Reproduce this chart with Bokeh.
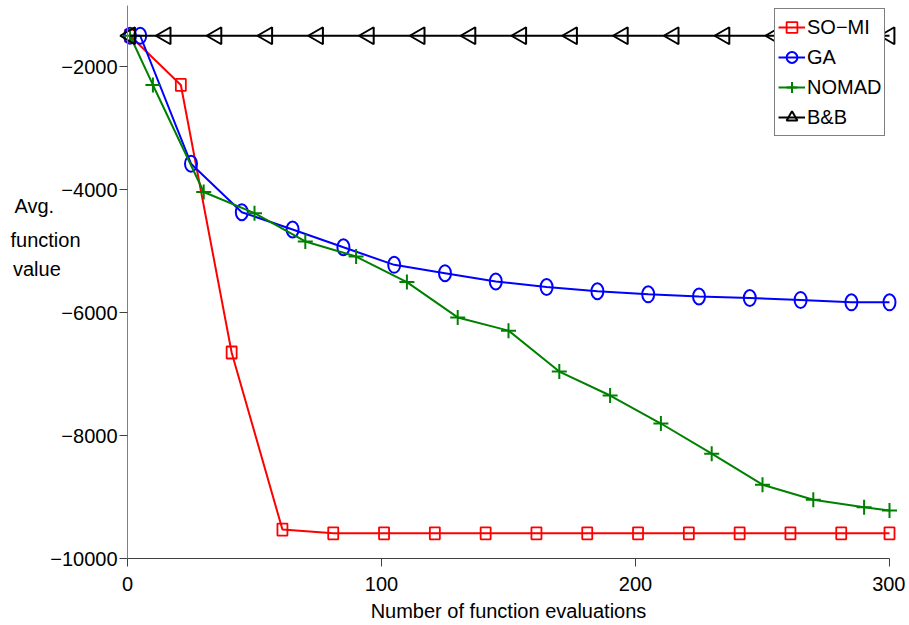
import numpy as np
from bokeh.plotting import figure
from bokeh.models import (Range1d, FixedTicker, Label, LinearAxis, ColumnDataSource,
                          Legend, LegendItem)
from bokeh.embed import file_html
from bokeh.resources import INLINE

# ---------------- data ----------------
somi_x = [1, 21, 41, 61, 81, 101, 121, 141, 161, 181, 201, 221, 241, 261, 281, 300]
somi_y = [-1500, -2300, -6650, -9530, -9590, -9590, -9590, -9590, -9590, -9590,
          -9590, -9590, -9590, -9590, -9590, -9590]

ga_x = [1, 5, 25, 45, 65, 85, 105, 125, 145, 165, 185, 205, 225, 245, 265, 285, 300]
ga_y = [-1500, -1500, -3580, -4370, -4650, -4940, -5225, -5360, -5495, -5585,
        -5655, -5705, -5740, -5765, -5795, -5835, -5835]

nomad_x = [1, 10, 30, 50, 70, 90, 110, 130, 150, 170, 190, 210, 230, 250, 270, 290, 300]
nomad_y = [-1500, -2300, -4040, -4385, -4845, -5090, -5505, -6080, -6295, -6960,
           -7350, -7805, -8295, -8800, -9045, -9165, -9220]

bb_x = [1, 15, 35, 55, 75, 95, 115, 135, 155, 175, 195, 215, 235, 255, 275, 295, 300]
bb_y = [-1500, -1500, -1500, -1500, -1500, -1500, -1500, -1500, -1500, -1500,
        -1500, -1500, -1500, -1500, -1500, -1500, -1500]

x_ticks = [0, 100, 200, 300]
x_tick_labels = ["0", "100", "200", "300"]
y_ticks = [-10000, -8000, -6000, -4000, -2000]
y_tick_labels = ["\u221210000", "\u22128000", "\u22126000", "\u22124000", "\u22122000"]

series_names = ["SO\u2212MI", "GA", "NOMAD", "B&B"]
x_title = "Number of function evaluations"
y_title_lines = ["Avg.", "function", "value"]

FONT = "Liberation Sans"
FS = "20px"

W, H = 905, 621
PX_PER_X = 2.54      # pixels per x unit
PX_PER_Y = 0.0615    # pixels per y unit
X0_PX, YB_PX = 127, 558   # pixel position of x=0 and y=-10000

x_start = -X0_PX / PX_PER_X
x_end = (W - X0_PX) / PX_PER_X
y_end = -10000 + YB_PX / PX_PER_Y
y_start = -10000 - (H - YB_PX) / PX_PER_Y

p = figure(width=W, height=H,
           x_range=Range1d(x_start, x_end), y_range=Range1d(y_start, y_end),
           output_backend="svg", toolbar_location=None,
           x_axis_location=None, y_axis_location=None,
           min_border_left=0, min_border_right=0,
           min_border_top=0, min_border_bottom=0)
p.outline_line_color = None
p.grid.visible = False
p.background_fill_color = "white"
p.border_fill_color = "white"

xax = LinearAxis(fixed_location=-10000, bounds=(0, 300),
                 ticker=FixedTicker(ticks=x_ticks),
                 major_label_overrides=dict(zip(x_ticks, x_tick_labels)))
yax = LinearAxis(fixed_location=0, bounds=(-10000, -1000),
                 ticker=FixedTicker(ticks=y_ticks),
                 major_label_overrides=dict(zip(y_ticks, y_tick_labels)))
for ax in (xax, yax):
    ax.major_tick_in = 0
    ax.major_tick_out = 8
    ax.minor_tick_line_color = None
    ax.major_tick_line_color = "#404040"
    ax.major_label_text_font = FONT
    ax.major_label_text_font_size = FS
    ax.major_label_text_color = "black"
xax.axis_line_color = "#404040"
yax.axis_line_color = "#808080"
xax.major_label_standoff = 10
yax.major_label_standoff = 2
p.add_layout(xax, "below")
p.add_layout(yax, "left")

# series
r_somi_l = p.line(somi_x, somi_y, line_color="red", line_width=2)
p.rect(somi_x, somi_y, width=10, height=12, width_units="screen", height_units="screen",
       fill_color=None, line_color="red", line_width=1.8)
# legend proxy (size 0: invisible in plot, legend sizes marker itself)
r_somi_m = p.scatter(somi_x, somi_y, marker="square", size=0, fill_color=None,
                     line_color="red", line_width=1.8)

r_ga_l = p.line(ga_x, ga_y, line_color="blue", line_width=2)
p.ellipse(ga_x, ga_y, width=12, height=16, width_units="screen", height_units="screen",
          fill_color=None, line_color="blue", line_width=2)
r_ga_m = p.scatter(ga_x, ga_y, marker="circle", size=0, fill_color=None,
                   line_color="blue", line_width=2)

r_nomad_l = p.line(nomad_x, nomad_y, line_color="#008000", line_width=2)
r_nomad_m = p.scatter(nomad_x, nomad_y, marker="cross", size=15, line_color="#008000",
                      line_width=2)

bb_src = ColumnDataSource(dict(x=bb_x, y=bb_y, ang=[np.pi / 2] * len(bb_x)))
r_bb_l = p.line(bb_x, bb_y, line_color="black", line_width=2)
r_bb_m = p.scatter("x", "y", source=bb_src, marker="triangle", angle="ang", size=17,
                   fill_color=None, line_color="black", line_width=2)

# legend
lg = Legend(items=[
    LegendItem(label=series_names[0], renderers=[r_somi_l, r_somi_m]),
    LegendItem(label=series_names[1], renderers=[r_ga_l, r_ga_m]),
    LegendItem(label=series_names[2], renderers=[r_nomad_l, r_nomad_m]),
    LegendItem(label=series_names[3], renderers=[r_bb_l, r_bb_m]),
])
lg.location = (774, H - 136)
lg.margin = 0
lg.padding = 3
lg.spacing = 0
lg.glyph_width = 27
lg.glyph_height = 30
lg.label_height = 30
lg.label_standoff = 2
lg.label_text_font = FONT
lg.label_text_font_size = FS
lg.label_text_color = "black"
lg.border_line_color = "black"
lg.border_line_width = 1
lg.background_fill_alpha = 1.0
lg.background_fill_color = "white"
p.add_layout(lg, "center")

# axis titles
def to_x(px):
    return (px - X0_PX) / PX_PER_X

def to_y(py):
    return -10000 + (YB_PX - py) / PX_PER_Y

p.add_layout(Label(x=150, y=to_y(610), text=x_title, text_align="center",
                   text_baseline="middle", text_font=FONT, text_font_size=FS,
                   text_color="black"))
for txt, px, py in zip(y_title_lines, [14, 10, 12.5], [205, 239, 268]):
    p.add_layout(Label(x=to_x(px), y=to_y(py), text=txt, text_align="left",
                       text_baseline="middle", text_font=FONT, text_font_size=FS,
                       text_color="black"))

open("out.html", "w").write(file_html(p, INLINE))
